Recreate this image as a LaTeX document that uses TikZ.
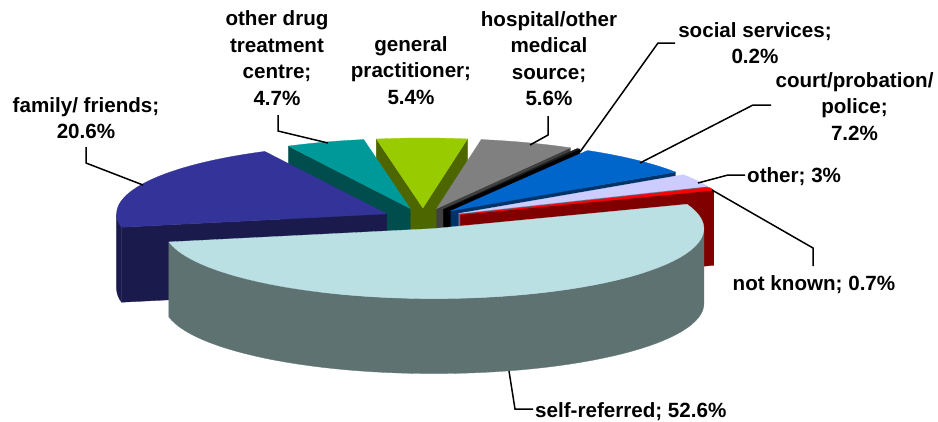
\documentclass[tikz,border=0pt]{standalone}
\usepackage{fontspec}
\setmainfont{Liberation Sans}
\definecolor{selftop}{HTML}{BAE0E3}
\definecolor{selfside}{HTML}{5F7272}
\definecolor{famtop}{HTML}{333399}
\definecolor{famside}{HTML}{1A1A4D}
\definecolor{drugtop}{HTML}{009999}
\definecolor{drugside}{HTML}{004D4D}
\definecolor{gptop}{HTML}{99CC00}
\definecolor{gpside}{HTML}{4D6600}
\definecolor{hosptop}{HTML}{808080}
\definecolor{hospside}{HTML}{404040}
\definecolor{soctop}{HTML}{1A1A1A}
\definecolor{socside}{HTML}{000000}
\definecolor{courttop}{HTML}{0066CC}
\definecolor{courtside}{HTML}{003366}
\definecolor{othtop}{HTML}{CCCCFF}
\definecolor{othside}{HTML}{66667F}
\definecolor{nktop}{HTML}{FF0000}
\definecolor{nkside}{HTML}{800000}
% #1 u-offset, #2 v-offset, #3 start angle, #4 end angle, #5 colour
\newcommand\pietop[5]{\fill[#5,draw=#5,line width=0.3pt] (#1,#2,0) -- plot[domain=#3:#4,samples=60] ({#1+cos(\x)},{#2+sin(\x)},0) -- cycle;}
\newcommand\piewall[5]{\fill[#5,draw=#5,line width=0.3pt] plot[domain=#3:#4,samples=60] ({#1+cos(\x)},{#2+sin(\x)},0) -- plot[domain=#4:#3,samples=60] ({#1+cos(\x)},{#2+sin(\x)},-1) -- cycle;}
% #1 u-offset, #2 v-offset, #3 angle, #4 colour
\newcommand\pieside[4]{\fill[#4,draw=#4,line width=0.3pt] (#1,#2,0) -- ({#1+cos(#3)},{#2+sin(#3)},0) -- ({#1+cos(#3)},{#2+sin(#3)},-1) -- (#1,#2,-1) -- cycle;}
\begin{document}
\begin{tikzpicture}[x=1pt,y=-1pt,
  leader/.style={line width=1.5pt,black},
  lab/.style={font=\fontsize{20.6}{26.5}\selectfont\bfseries,align=center,inner sep=0pt,text=black}]
\useasboundingbox (0,0) rectangle (938,421);
\fill[white] (0,0) rectangle (938,421);
\begin{scope}[shift={(423,218.5)},x={(270pt,0pt)},y={(0pt,70pt)},z={(0pt,75pt)}]
% general practitioner
\pieside{-0.0005}{0.15}{80.48}{gpside}
\pieside{-0.0005}{0.15}{99.92}{gpside}
\pietop{-0.0005}{0.15}{80.48}{99.92}{gptop}
% other drug treatment centre
\pieside{-0.0473}{0.1424}{116.84}{drugside}
\pietop{-0.0473}{0.1424}{99.92}{116.84}{drugtop}
% hospital
\pieside{0.0503}{0.1413}{60.32}{hospside}
\pietop{0.0503}{0.1413}{60.32}{80.48}{hosptop}
% social services
\pieside{0.0751}{0.1299}{59.6}{socside}
\pietop{0.0751}{0.1299}{59.6}{60.32}{soctop}
% court
\pieside{0.1030}{0.1090}{33.68}{courtside}
\pietop{0.1030}{0.1090}{33.68}{59.6}{courttop}
% other
\pieside{0.1321}{0.0711}{22.88}{othside}
\pietop{0.1321}{0.0711}{22.88}{33.68}{othtop}
% not known
\pieside{0.1394}{0.0553}{20.36}{nkside}
\pietop{0.1394}{0.0553}{20.36}{22.88}{nktop}
% family
\piewall{-0.1347}{0.0660}{180}{191}{famside}
\pieside{-0.1347}{0.0660}{191}{famside}
\pietop{-0.1347}{0.0660}{116.84}{191}{famtop}
% self-referred
\piewall{0.0405}{-0.1444}{191}{360}{selfside}
\pietop{0.0405}{-0.1444}{191}{380.36}{selftop}
\end{scope}
% labels
\node[lab,anchor=north] (famlab) at (86,93.5) {\strut family/ friends;\\20.6\%};
\node[lab,anchor=north] (druglab) at (277,7) {\strut other drug\\treatment\\centre;\\4.7\%};
\node[lab,anchor=north] (gplab) at (411,32.5) {\strut general\\practitioner;\\5.4\%};
\node[lab,anchor=north] (hosplab) at (549,7.5) {\strut hospital/other\\medical\\source;\\5.6\%};
\node[lab,anchor=north] (soclab) at (755,18.5) {\strut social services;\\0.2\%};
\node[lab,anchor=north] (courtlab) at (854.5,68.5) {\strut court/probation/\\police;\\7.2\%};
\node[lab,anchor=base west] (othlab) at (747,182) {other; 3\%};
\node[lab,anchor=base] (nklab) at (814,290) {not known; 0.7\%};
\node[lab,anchor=base west] (selflab) at (535,417) {self-referred; 52.6\%};
% leader coordinates
\coordinate (famA) at (143,185); \coordinate (famB) at (86,163); \coordinate (famC) at (86,147);
\coordinate (drugA) at (328,143); \coordinate (drugB) at (278,131); \coordinate (drugC) at (278,115);
\coordinate (hospA) at (530,145); \coordinate (hospB) at (548,135); \coordinate (hospC) at (548,116);
\coordinate (socA) at (580,152); \coordinate (socB) at (658,43); \coordinate (socC) at (675,43);
\coordinate (courtA) at (640,163); \coordinate (courtB) at (753,105); \coordinate (courtC) at (771,105);
\coordinate (othA) at (698,183); \coordinate (othB) at (728,175); \coordinate (othC) at (745,175);
\coordinate (nkA) at (712,190); \coordinate (nkB) at (813,248); \coordinate (nkC) at (813,266);
\coordinate (selfA) at (509,371); \coordinate (selfB) at (515,409); \coordinate (selfC) at (533,409);
\draw[leader] (famA) -- (famB) -- (famC);
\draw[leader] (drugA) -- (drugB) -- (drugC);
\draw[leader] (hospA) -- (hospB) -- (hospC);
\draw[leader] (socA) -- (socB) -- (socC);
\draw[leader] (courtA) -- (courtB) -- (courtC);
\draw[leader] (othA) -- (othB) -- (othC);
\draw[leader] (nkA) -- (nkB) -- (nkC);
\draw[leader] (selfA) -- (selfB) -- (selfC);
\end{tikzpicture}
\end{document}
